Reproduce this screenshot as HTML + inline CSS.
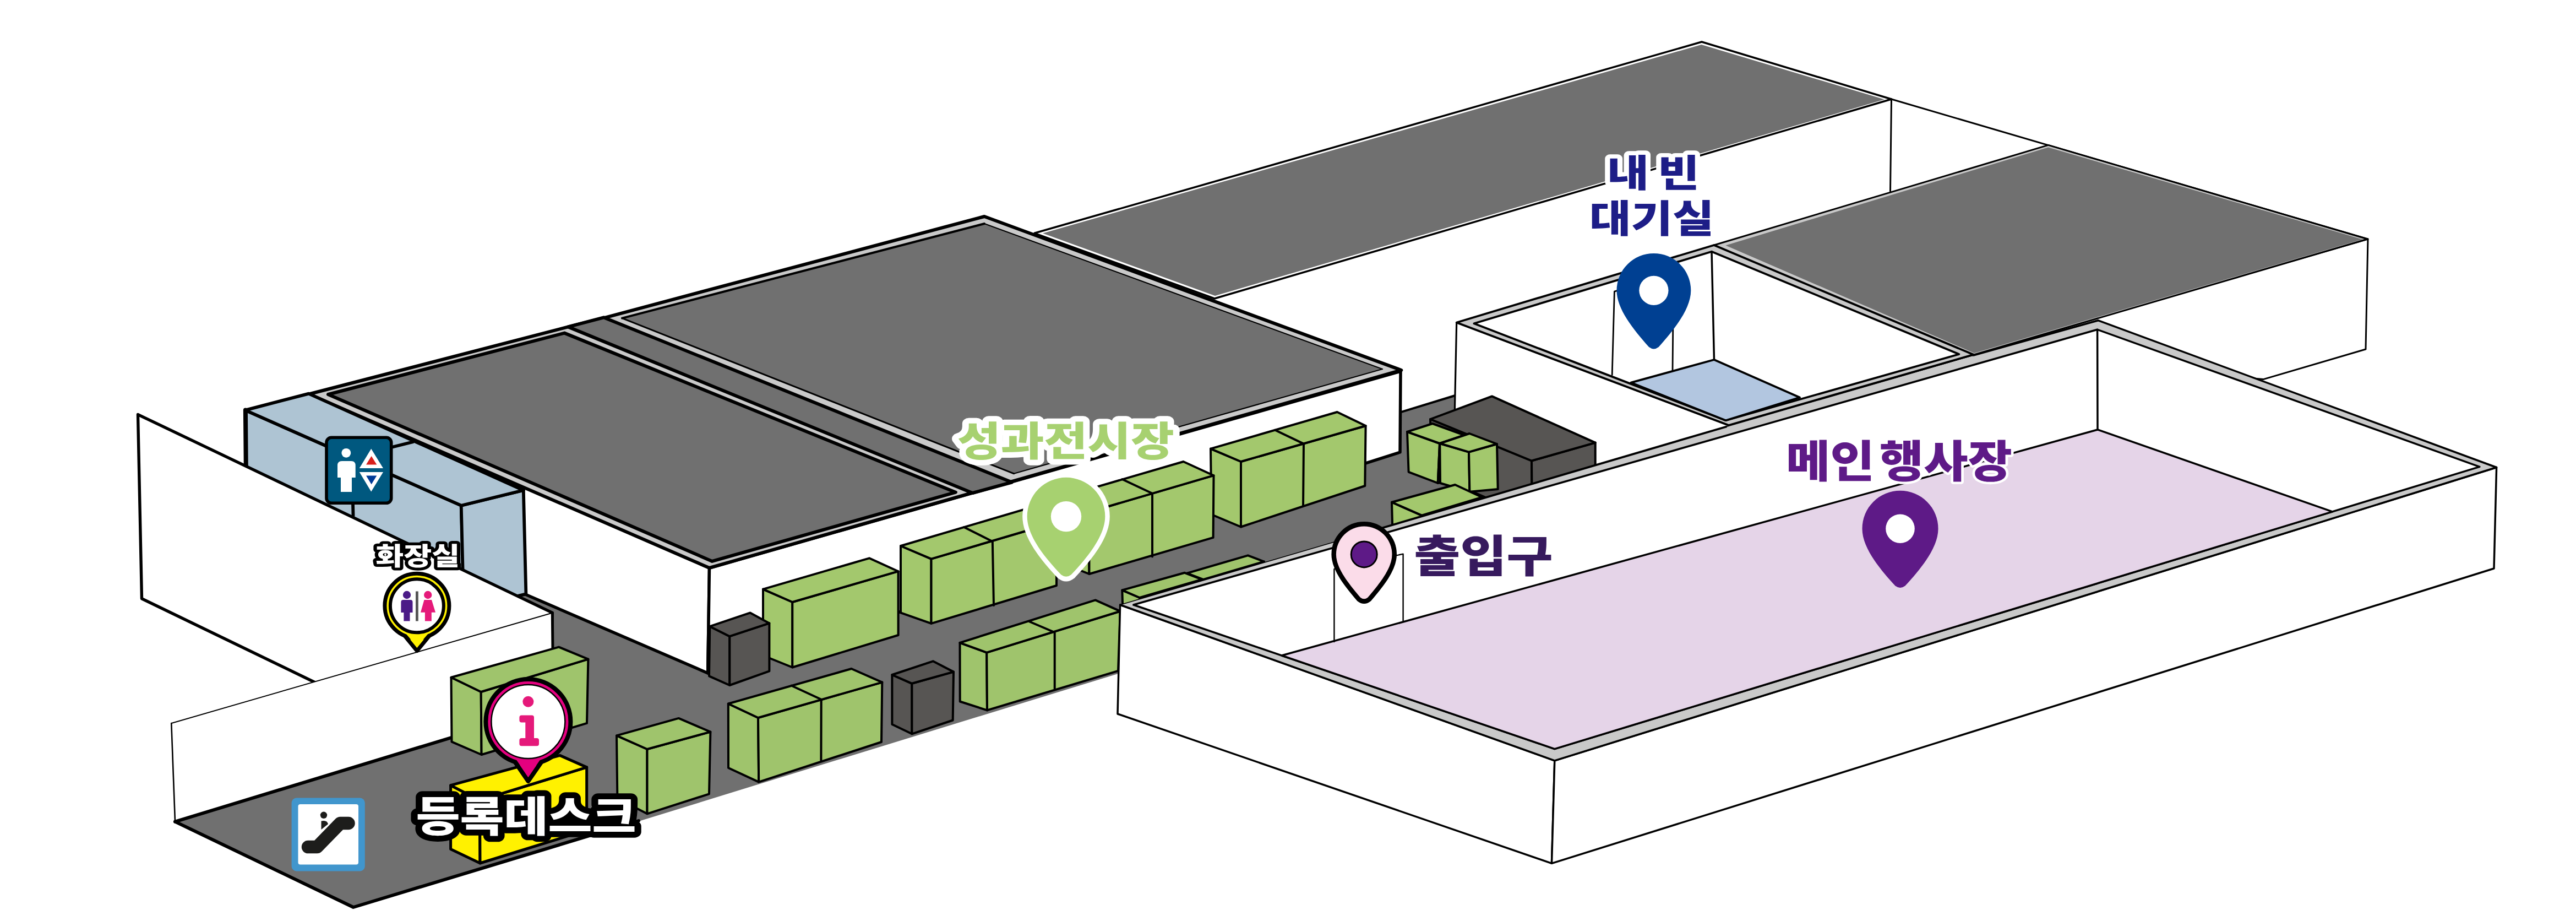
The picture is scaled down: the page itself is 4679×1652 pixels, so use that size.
<!DOCTYPE html>
<html lang="ko"><head><meta charset="utf-8"><title>행사장 안내도</title>
<style>
html,body{margin:0;padding:0;background:#fff;}
body{width:4679px;height:1652px;overflow:hidden;}
svg{display:block;}
text{font-family:"Liberation Sans","Noto Sans CJK KR","NanumGothic",sans-serif;font-weight:900;}
</style></head><body>
<svg width="4679" height="1652" viewBox="0 0 4679 1652">
<rect width="4679" height="1652" fill="#fff"/>
<polygon points="318.0,1491.6 641.8,1647.0 1160.8,1490.8 1500.0,1386.0 2031.0,1223.0 2040.0,1100.0 2900.0,850.0 2900.0,800.0 2643.0,718.0 2543.0,748.6 2543.0,821.0 1285.7,1222.0 955.4,1079.5 940.0,1082.0 1003.3,1112.4 1004.0,1283.0" fill="#707070" stroke="#000" stroke-width="0" stroke-linejoin="round" />
<polyline points="318.0,1491.6 641.8,1647.0 1160.0,1490.0" fill="none" stroke="#000" stroke-width="6" stroke-linejoin="round" stroke-linecap="round" />
<polyline points="2543.0,748.6 2643.0,718.0" fill="none" stroke="#000" stroke-width="4" stroke-linejoin="round" stroke-linecap="round" />
<polygon points="1879.0,423.3 3091.0,76.0 3435.5,180.0 2206.0,542.0" fill="#fff" stroke="#000" stroke-width="3.5" stroke-linejoin="round" />
<polygon points="1894.0,423.6 3090.5,81.0 3423.0,180.5 2207.0,537.0" fill="#707070" stroke="#000" stroke-width="0" stroke-linejoin="round" />
<polyline points="3435.5,180.0 3433.5,347.0" fill="none" stroke="#000" stroke-width="3" stroke-linejoin="round" stroke-linecap="round" />
<polyline points="3435.5,180.0 4301.0,434.0" fill="none" stroke="#000" stroke-width="3" stroke-linejoin="round" stroke-linecap="round" />
<polygon points="4301.0,434.0 4297.0,634.0 4111.0,688.6 3582.0,642.0" fill="#fff" stroke="#000" stroke-width="3" stroke-linejoin="round" />
<polygon points="3113.3,445.0 3720.4,263.4 4300.3,434.0 3582.0,645.0" fill="#c9c9c9" stroke="#000" stroke-width="3" stroke-linejoin="round" />
<polygon points="3134.4,445.5 3720.4,267.5 4291.0,434.5 3586.0,641.0" fill="#707070" stroke="#000" stroke-width="0" stroke-linejoin="round" />
<polygon points="930.0,874.0 1288.5,1031.0 1285.7,1222.0 955.4,1079.5" fill="#fff" stroke="#000" stroke-width="5.5" stroke-linejoin="round" />
<polygon points="1288.5,1031.0 2544.0,674.0 2543.0,821.0 1285.7,1222.0" fill="#fff" stroke="#000" stroke-width="5.5" stroke-linejoin="round" />
<polygon points="561.0,715.5 1031.9,593.4 1099.8,576.3 1788.0,393.0 2545.3,672.0 1288.5,1031.0" fill="#c9c9c9" stroke="#000" stroke-width="6" stroke-linejoin="round" />
<polygon points="1031.9,593.4 1096.5,576.3 1838.0,875.5 1766.5,895.0" fill="#707070" stroke="#000" stroke-width="6" stroke-linejoin="round" />
<polygon points="596.0,716.0 1025.3,604.6 1735.9,893.7 1293.5,1018.9" fill="#707070" stroke="#000" stroke-width="6" stroke-linejoin="round" />
<polygon points="1130.0,577.6 1788.0,406.0 2511.0,670.0 1841.7,859.8" fill="#707070" stroke="#000" stroke-width="0" stroke-linejoin="round" />
<polyline points="1841.7,859.8 1130.0,577.6" fill="none" stroke="#000" stroke-width="3" stroke-linejoin="round" stroke-linecap="round" />
<polyline points="1130.0,577.6 1788.0,406.0" fill="none" stroke="#000" stroke-width="4" stroke-linejoin="round" stroke-linecap="round" />
<polyline points="1788.0,406.0 2511.0,670.0 1841.7,859.8" fill="none" stroke="#000" stroke-width="2.2" stroke-linejoin="round" stroke-linecap="round" />
<polygon points="445.4,744.6 837.7,917.7 842.3,1060.0 447.7,870.0" fill="#aec4d3" stroke="#000" stroke-width="5.8" stroke-linejoin="round" />
<polygon points="837.7,917.7 950.8,890.0 955.4,1078.4 842.3,1106.0" fill="#aec4d3" stroke="#000" stroke-width="5.8" stroke-linejoin="round" />
<polygon points="445.4,744.6 560.8,714.6 950.8,890.0 837.7,917.7" fill="#aec4d3" stroke="#000" stroke-width="5.8" stroke-linejoin="round" />
<polyline points="750.0,802.3 639.0,830.0 641.5,936.0" fill="none" stroke="#000" stroke-width="5.8" stroke-linejoin="round" stroke-linecap="round" />
<polyline points="445.9,744.6 446.8,850.0" fill="none" stroke="#000" stroke-width="8" stroke-linejoin="round" stroke-linecap="round" />
<polygon points="250.5,752.5 1003.3,1112.4 1003.0,1260.0 620.0,1262.0 257.5,1086.7" fill="#fff" stroke="#000" stroke-width="5.4" stroke-linejoin="round" />
<polygon points="311.3,1313.0 1003.3,1112.4 1004.0,1283.0 318.0,1491.6" fill="#fff" stroke="#000" stroke-width="0" stroke-linejoin="round" />
<polyline points="311.3,1313.0 1002.0,1113.0" fill="none" stroke="#000" stroke-width="1.9" stroke-linejoin="round" stroke-linecap="round" />
<polyline points="311.3,1313.0 318.0,1491.6" fill="none" stroke="#000" stroke-width="2.6" stroke-linejoin="round" stroke-linecap="round" />
<polyline points="1003.3,1112.4 1004.0,1180.0" fill="none" stroke="#000" stroke-width="5" stroke-linejoin="round" stroke-linecap="round" />
<polyline points="318.0,1491.6 1004.0,1283.0" fill="none" stroke="#000" stroke-width="6" stroke-linejoin="round" stroke-linecap="round" />
<polygon points="2645.7,585.5 3140.0,772.0 3140.0,985.0 2642.0,762.0" fill="#fff" stroke="#000" stroke-width="3.2" stroke-linejoin="round" />
<polygon points="2598.0,761.0 2782.0,836.5 2783.0,940.0 2600.0,860.0" fill="#575553" stroke="#000" stroke-width="4" stroke-linejoin="round" />
<polygon points="2782.0,836.5 2897.7,803.6 2897.7,900.0 2783.0,940.0" fill="#575553" stroke="#000" stroke-width="4" stroke-linejoin="round" />
<polygon points="2598.0,761.0 2710.0,719.4 2897.7,803.6 2782.0,836.5" fill="#575553" stroke="#000" stroke-width="4" stroke-linejoin="round" />
<polygon points="2556.0,783.8 2615.0,805.0 2611.7,877.0 2558.6,856.8" fill="#a3c86d" stroke="#000" stroke-width="4" stroke-linejoin="round" />
<polygon points="2615.0,805.0 2660.0,790.0 2660.0,865.0 2611.7,877.0" fill="#a3c86d" stroke="#000" stroke-width="4" stroke-linejoin="round" />
<polygon points="2556.0,783.8 2602.0,769.0 2660.0,790.0 2615.0,805.0" fill="#a3c86d" stroke="#000" stroke-width="4" stroke-linejoin="round" />
<polygon points="2615.3,805.0 2668.0,820.7 2669.4,892.8 2616.0,877.0" fill="#a3c86d" stroke="#000" stroke-width="4" stroke-linejoin="round" />
<polygon points="2668.0,820.7 2719.0,806.0 2720.7,888.0 2669.4,892.8" fill="#a3c86d" stroke="#000" stroke-width="4" stroke-linejoin="round" />
<polygon points="2615.3,805.0 2669.0,787.0 2719.0,806.0 2668.0,820.7" fill="#a3c86d" stroke="#000" stroke-width="4" stroke-linejoin="round" />
<polygon points="2528.0,911.7 2582.4,935.6 2582.4,1010.0 2530.0,990.0" fill="#a3c86d" stroke="#000" stroke-width="4" stroke-linejoin="round" />
<polygon points="2582.4,935.6 2692.0,902.7 2692.0,980.0 2582.4,1010.0" fill="#a3c86d" stroke="#000" stroke-width="4" stroke-linejoin="round" />
<polygon points="2528.0,911.7 2643.0,880.0 2692.0,902.7 2582.4,935.6" fill="#a3c86d" stroke="#000" stroke-width="4" stroke-linejoin="round" />
<polygon points="2199.0,814.6 2254.0,838.0 2254.0,956.5 2200.5,934.0" fill="#a3c86d" stroke="#000" stroke-width="4" stroke-linejoin="round" />
<polygon points="2254.0,838.0 2480.6,773.0 2479.3,882.0 2254.0,956.5" fill="#a3c86d" stroke="#000" stroke-width="4" stroke-linejoin="round" />
<polygon points="2199.0,814.6 2428.8,748.0 2480.6,773.0 2254.0,838.0" fill="#a3c86d" stroke="#000" stroke-width="4" stroke-linejoin="round" />
<polyline points="2316.0,780.8 2368.0,805.6 2367.0,918.0" fill="none" stroke="#000" stroke-width="4" stroke-linejoin="round" stroke-linecap="round" />
<polygon points="1923.7,903.8 1978.4,929.5 1978.4,1042.0 1923.7,1020.0" fill="#a3c86d" stroke="#000" stroke-width="4" stroke-linejoin="round" />
<polygon points="1978.4,929.5 2204.5,863.2 2203.6,975.9 1978.4,1042.0" fill="#a3c86d" stroke="#000" stroke-width="4" stroke-linejoin="round" />
<polygon points="1923.7,903.8 2149.5,838.0 2204.5,863.2 1978.4,929.5" fill="#a3c86d" stroke="#000" stroke-width="4" stroke-linejoin="round" />
<polyline points="2038.3,870.0 2093.0,895.7 2093.0,1010.5" fill="none" stroke="#000" stroke-width="4" stroke-linejoin="round" stroke-linecap="round" />
<polygon points="1636.0,991.0 1691.5,1014.7 1691.5,1131.8 1636.0,1112.4" fill="#a3c86d" stroke="#000" stroke-width="4" stroke-linejoin="round" />
<polygon points="1691.5,1014.7 1919.0,947.5 1919.0,1063.0 1691.5,1131.8" fill="#a3c86d" stroke="#000" stroke-width="4" stroke-linejoin="round" />
<polygon points="1636.0,991.0 1863.5,923.8 1919.0,947.5 1691.5,1014.7" fill="#a3c86d" stroke="#000" stroke-width="4" stroke-linejoin="round" />
<polyline points="1751.0,957.0 1802.8,983.0 1805.0,1099.0" fill="none" stroke="#000" stroke-width="4" stroke-linejoin="round" stroke-linecap="round" />
<polygon points="1386.0,1069.6 1439.3,1093.0 1439.3,1211.5 1386.0,1190.0" fill="#a3c86d" stroke="#000" stroke-width="4" stroke-linejoin="round" />
<polygon points="1439.3,1093.0 1631.6,1037.2 1631.6,1153.0 1439.3,1211.5" fill="#a3c86d" stroke="#000" stroke-width="4" stroke-linejoin="round" />
<polygon points="1386.0,1069.6 1579.0,1013.3 1631.6,1037.2 1439.3,1093.0" fill="#a3c86d" stroke="#000" stroke-width="4" stroke-linejoin="round" />
<polygon points="1289.3,1137.2 1325.3,1155.2 1325.3,1244.0 1288.0,1227.3" fill="#575553" stroke="#000" stroke-width="4" stroke-linejoin="round" />
<polygon points="1325.3,1155.2 1397.4,1131.4 1397.4,1218.3 1325.3,1244.0" fill="#575553" stroke="#000" stroke-width="4" stroke-linejoin="round" />
<polygon points="1289.3,1137.2 1362.7,1112.4 1397.4,1131.4 1325.3,1155.2" fill="#575553" stroke="#000" stroke-width="4" stroke-linejoin="round" />
<polygon points="2156.0,1040.7 2186.0,1052.0 2186.0,1110.0 2156.0,1100.0" fill="#9fc46c" stroke="#000" stroke-width="4" stroke-linejoin="round" />
<polygon points="2186.0,1052.0 2296.0,1019.5 2296.0,1080.0 2186.0,1110.0" fill="#9fc46c" stroke="#000" stroke-width="4" stroke-linejoin="round" />
<polygon points="2156.0,1040.7 2266.7,1008.3 2296.0,1019.5 2186.0,1052.0" fill="#9fc46c" stroke="#000" stroke-width="4" stroke-linejoin="round" />
<polygon points="2038.3,1071.4 2070.0,1085.0 2070.0,1140.0 2040.0,1130.0" fill="#9fc46c" stroke="#000" stroke-width="4" stroke-linejoin="round" />
<polygon points="2070.0,1085.0 2183.0,1052.0 2183.0,1110.0 2070.0,1140.0" fill="#9fc46c" stroke="#000" stroke-width="4" stroke-linejoin="round" />
<polygon points="2038.3,1071.4 2151.8,1039.8 2183.0,1052.0 2070.0,1085.0" fill="#9fc46c" stroke="#000" stroke-width="4" stroke-linejoin="round" />
<polygon points="1743.5,1166.8 1792.2,1184.6 1793.0,1289.4 1743.7,1273.5" fill="#9fc46c" stroke="#000" stroke-width="4" stroke-linejoin="round" />
<polygon points="1792.2,1184.6 2034.7,1109.6 2031.0,1217.8 1793.0,1289.4" fill="#9fc46c" stroke="#000" stroke-width="4" stroke-linejoin="round" />
<polygon points="1743.5,1166.8 1989.6,1089.4 2034.7,1109.6 1792.2,1184.6" fill="#9fc46c" stroke="#000" stroke-width="4" stroke-linejoin="round" />
<polyline points="1870.0,1128.5 1915.7,1148.0 1915.7,1250.3" fill="none" stroke="#000" stroke-width="4" stroke-linejoin="round" stroke-linecap="round" />
<polygon points="1620.4,1225.0 1656.4,1240.8 1656.4,1332.3 1620.4,1315.0" fill="#575553" stroke="#000" stroke-width="4" stroke-linejoin="round" />
<polygon points="1656.4,1240.8 1732.0,1219.6 1730.7,1307.5 1656.4,1332.3" fill="#575553" stroke="#000" stroke-width="4" stroke-linejoin="round" />
<polygon points="1620.4,1225.0 1694.7,1200.3 1732.0,1219.6 1656.4,1240.8" fill="#575553" stroke="#000" stroke-width="4" stroke-linejoin="round" />
<polygon points="1322.8,1277.5 1377.0,1303.0 1378.2,1419.6 1323.0,1394.0" fill="#9fc46c" stroke="#000" stroke-width="4" stroke-linejoin="round" />
<polygon points="1377.0,1303.0 1602.3,1238.6 1601.0,1347.0 1378.2,1419.6" fill="#9fc46c" stroke="#000" stroke-width="4" stroke-linejoin="round" />
<polygon points="1322.8,1277.5 1546.5,1214.0 1602.3,1238.6 1377.0,1303.0" fill="#9fc46c" stroke="#000" stroke-width="4" stroke-linejoin="round" />
<polyline points="1437.7,1244.7 1491.7,1269.7 1491.4,1380.0" fill="none" stroke="#000" stroke-width="4" stroke-linejoin="round" stroke-linecap="round" />
<polygon points="1120.0,1335.4 1175.5,1360.0 1175.5,1477.3 1121.4,1449.4" fill="#9fc46c" stroke="#000" stroke-width="4" stroke-linejoin="round" />
<polygon points="1175.5,1360.0 1290.4,1328.6 1288.0,1441.3 1175.5,1477.3" fill="#9fc46c" stroke="#000" stroke-width="4" stroke-linejoin="round" />
<polygon points="1120.0,1335.4 1232.7,1303.9 1290.4,1328.6 1175.5,1360.0" fill="#9fc46c" stroke="#000" stroke-width="4" stroke-linejoin="round" />
<polygon points="819.5,1229.7 873.7,1256.0 874.6,1370.0 820.5,1346.7" fill="#9fc46c" stroke="#000" stroke-width="4" stroke-linejoin="round" />
<polygon points="873.7,1256.0 1068.4,1196.7 1066.0,1312.9 874.6,1370.0" fill="#9fc46c" stroke="#000" stroke-width="4" stroke-linejoin="round" />
<polygon points="819.5,1229.7 1015.0,1174.6 1068.4,1196.7 873.7,1256.0" fill="#9fc46c" stroke="#000" stroke-width="4" stroke-linejoin="round" />
<polygon points="818.6,1425.7 871.4,1452.9 872.0,1567.0 818.6,1541.4" fill="#fff100" stroke="#000" stroke-width="5" stroke-linejoin="round" />
<polygon points="871.4,1452.9 1065.7,1392.9 1065.7,1507.0 872.0,1567.0" fill="#fff100" stroke="#000" stroke-width="5" stroke-linejoin="round" />
<polygon points="818.6,1425.7 1017.0,1371.4 1065.7,1392.9 871.4,1452.9" fill="#fff100" stroke="#000" stroke-width="5" stroke-linejoin="round" />
<polygon points="2645.7,585.5 3113.3,445.0 3584.6,643.8 3140.0,772.0" fill="#c9c9c9" stroke="#000" stroke-width="3.8" stroke-linejoin="round" />
<polygon points="2677.4,587.3 3109.0,456.7 3558.3,643.0 3134.6,763.2" fill="#fff" stroke="#000" stroke-width="3.8" stroke-linejoin="round" />
<polygon points="3113.5,653.0 3269.0,721.5 3134.6,763.2 2962.3,694.6" fill="#b2c6e0" stroke="#000" stroke-width="3.8" stroke-linejoin="round" />
<polyline points="3109.0,456.7 3113.5,653.0" fill="none" stroke="#000" stroke-width="3.5" stroke-linejoin="round" stroke-linecap="round" />
<polyline points="2928.2,680.5 2932.4,529.2 3039.7,498.7 3038.0,672.8" fill="none" stroke="#000" stroke-width="2.8" stroke-linejoin="round" stroke-linecap="round" />
<polygon points="2034.6,1098.0 2823.8,1380.8 2818.5,1567.3 2030.0,1296.0" fill="#fff" stroke="#000" stroke-width="3.5" stroke-linejoin="round" />
<polygon points="2823.8,1380.8 4534.6,848.5 4530.0,1032.0 2818.5,1567.3" fill="#fff" stroke="#000" stroke-width="3.5" stroke-linejoin="round" />
<polygon points="2034.6,1098.0 3135.2,774.7 3810.9,581.7 4534.6,848.5 2823.8,1380.8" fill="#c9c9c9" stroke="#000" stroke-width="0" stroke-linejoin="round" />
<polyline points="2034.6,1098.0 2500.0,961.5" fill="none" stroke="#000" stroke-width="1.6" stroke-linejoin="round" stroke-linecap="round" />
<polyline points="2500.0,961.5 3135.2,774.7" fill="none" stroke="#000" stroke-width="3.8" stroke-linejoin="round" stroke-linecap="round" />
<polyline points="3135.2,774.7 3584.6,645.0" fill="none" stroke="#000" stroke-width="1.6" stroke-linejoin="round" stroke-linecap="round" />
<polyline points="3584.6,645.0 3810.9,581.7 4534.6,848.5 2823.8,1380.8 2034.6,1098.0" fill="none" stroke="#000" stroke-width="3.5" stroke-linejoin="round" stroke-linecap="round" />
<polygon points="2058.8,1098.0 3809.6,598.3 4503.8,847.4 2823.8,1359.6" fill="#fff" stroke="#000" stroke-width="3.5" stroke-linejoin="round" />
<polygon points="2328.0,1190.0 3810.0,780.0 4236.5,928.9 2823.8,1359.6" fill="#e5d4e8" stroke="#000" stroke-width="3.5" stroke-linejoin="round" />
<polyline points="3809.6,598.3 3810.0,780.0" fill="none" stroke="#000" stroke-width="3.5" stroke-linejoin="round" stroke-linecap="round" />
<polyline points="2423.4,1165.0 2423.4,1032.9 2548.6,1005.7 2548.6,1127.0" fill="none" stroke="#000" stroke-width="2.4" stroke-linejoin="round" stroke-linecap="round" />
<rect x="593" y="794.3" width="117.7" height="119" rx="9" fill="#00587f" stroke="#000" stroke-width="5.6"/>
<circle cx="628.8" cy="822.3" r="8.4" fill="#fff"/>
<path d="M613,867 V845 Q613,837 621,837 H638 Q645.7,837 645.7,845 V867 H639 V893 H619 V867 Z" fill="#fff"/>
<polygon points="674.2,814.8 696,850 652.8,850" fill="#fff"/>
<polygon points="674.6,828 684.3,843.4 665,843.4" fill="#d7211e"/>
<polygon points="652.8,856.9 696,856.9 674.2,892.4" fill="#fff"/>
<polygon points="665,863.4 684.3,863.4 674.6,879.3" fill="#003a96"/>
<rect x="529.6" y="1448.5" width="133.2" height="133" rx="9" fill="#4196cd"/>
<rect x="541.5" y="1460" width="109.5" height="109.5" rx="4" fill="#fff"/>
<path d="M559.5,1537.6 H576 L618,1494.5 H633" fill="none" stroke="#1d1d1b" stroke-width="23.5" stroke-linecap="round" stroke-linejoin="round"/>
<circle cx="588" cy="1479.8" r="6.2" fill="#1d1d1b"/>
<path d="M583.5,1490.5 Q594,1488 596,1496 L583.5,1506 Z" fill="#1d1d1b"/>
<polygon points="730,1148 785,1148 757.4,1181.6" fill="#fff100" stroke="#000" stroke-width="7" stroke-linejoin="round"/>
<circle cx="757.4" cy="1099.8" r="58.5" fill="#fff100" stroke="#000" stroke-width="7"/>
<polygon points="737,1150 778,1150 757.4,1174" fill="#fff100"/>
<circle cx="757.4" cy="1099.8" r="48.5" fill="#fff" stroke="#000" stroke-width="6"/>
<circle cx="739" cy="1080" r="7.2" fill="#4b1a87"/>
<path d="M728.4,1112 V1093 Q728.4,1089 732.4,1089 H745.5 Q749.5,1089 749.5,1093 V1112 H744.5 V1127.5 H733.4 V1112 Z" fill="#4b1a87"/>
<rect x="755" y="1073.5" width="4.8" height="54" fill="#555"/>
<circle cx="777.2" cy="1080" r="7.2" fill="#e5197a"/>
<path d="M770.5,1089 H784 L791,1111.7 H783.8 V1127.5 H771.9 V1111.7 H764 Z" fill="#e5197a"/>
<text transform="translate(682.3,1026.4) scale(0.5547,0.4558)" font-size="100" fill="#fff" stroke="#000" stroke-width="22.8" stroke-linejoin="round" paint-order="stroke fill">화장실</text>
<polygon points="925,1368 994,1368 959.4,1418" fill="#e4007f" stroke="#000" stroke-width="8" stroke-linejoin="round"/>
<circle cx="959.4" cy="1310" r="77" fill="#e4007f" stroke="#000" stroke-width="8"/>
<polygon points="933,1372 986,1372 959.4,1411" fill="#e4007f"/>
<circle cx="959.4" cy="1310" r="67" fill="#fff" stroke="#000" stroke-width="2.5"/>
<circle cx="959.4" cy="1273.7" r="10" fill="#e5197a"/>
<path d="M947.4,1298.6 H966 Q970,1298.6 970,1302.6 V1340 H975 Q979,1340 979,1344 V1350.3 Q979,1354.3 975,1354.3 H947.4 Q943.4,1354.3 943.4,1350.3 V1344 Q943.4,1340 947.4,1340 H954.3 V1311.4 H947.4 Q943.4,1311.4 943.4,1307.4 V1302.6 Q943.4,1298.6 947.4,1298.6 Z" fill="#e5197a"/>
<text transform="translate(755.5,1510.1) scale(0.8695,0.7579)" font-size="100" fill="#fff" stroke="#000" stroke-width="28.3" stroke-linejoin="round" paint-order="stroke fill">등록데스크</text>
<path d="M1865.7,937.6 A70.8,70.8 0 0 1 2007.3,937.6 C2007.3,973.0 1975.4,1011.9 1945.7,1043.3 Q1936.5,1050.4 1927.3,1043.3 C1897.6,1011.9 1865.7,973.0 1865.7,937.6 Z" fill="#a7d170" stroke="#fff" stroke-width="17" stroke-linejoin="round" paint-order="stroke"/>
<circle cx="1936.5" cy="937.6" r="27.7" fill="#fff"/>
<text transform="translate(1738.9,827.4) scale(0.856,0.7284)" font-size="100" fill="#a7d170" stroke="#fff" stroke-width="27.8" stroke-linejoin="round" paint-order="stroke fill">성과전시장</text>
<path d="M2936.5,527.3 A67.4,67.4 0 0 1 3071.3,527.3 C3071.3,561.0 3041.0,598.1 3012.7,630.1 Q3003.9,636.8 2995.1,630.1 C2966.8,598.1 2936.5,561.0 2936.5,527.3 Z" fill="#004092"/>
<circle cx="3003.9" cy="527.3" r="26.6" fill="#fff"/>
<text transform="translate(2918.9,339.4) scale(0.8275,0.6874)" font-size="100" fill="#1d1d87" stroke="#fff" stroke-width="22.4" stroke-linejoin="round" paint-order="stroke fill">내<tspan dx="19.0">빈</tspan></text>
<text transform="translate(2886.9,421.6) scale(0.8214,0.6895)" font-size="100" fill="#1d1d87" stroke="#fff" stroke-width="22.5" stroke-linejoin="round" paint-order="stroke fill">대기실</text>
<path d="M3382.5,959.7 A69.0,69.0 0 0 1 3520.5,959.7 C3520.5,994.2 3489.4,1032.2 3460.5,1063.5 Q3451.5,1070.4 3442.5,1063.5 C3413.6,1032.2 3382.5,994.2 3382.5,959.7 Z" fill="#5e1a87"/>
<circle cx="3451.5" cy="959.7" r="26.3" fill="#fff"/>
<text transform="translate(3244.1,865.6) scale(0.8739,0.8)" font-size="100" fill="#5e1a87" stroke="#fff" stroke-width="10.8" stroke-linejoin="round" paint-order="stroke fill">메인<tspan dx="10.2">행사장</tspan></text>
<path d="M2426.9,1006.4 A50.8,50.8 0 0 1 2528.5,1006.4 C2528.5,1031.8 2505.6,1059.7 2484.3,1084.8 Q2477.7,1089.9 2471.1,1084.8 C2449.8,1059.7 2426.9,1031.8 2426.9,1006.4 Z" fill="#fbdce9" stroke="#000" stroke-width="17" stroke-linejoin="round" paint-order="stroke"/>
<circle cx="2477.7" cy="1006.4" r="23.5" fill="#5e1a87" stroke="#000" stroke-width="3"/>
<text transform="translate(2568.3,1037.7) scale(0.9142,0.7968)" font-size="100" fill="#371a5e">출입구</text>
</svg>
</body></html>
